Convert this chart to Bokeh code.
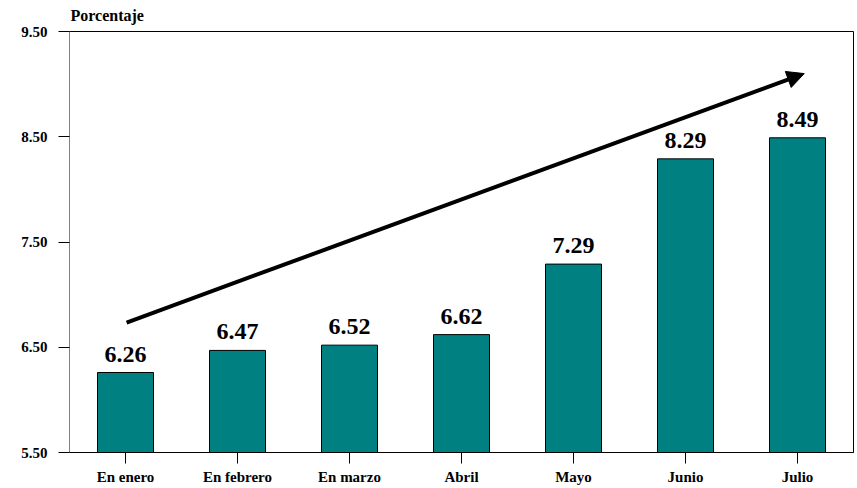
from bokeh.plotting import figure
from bokeh.models import (ColumnDataSource, FixedTicker, Range1d, Arrow, NormalHead,
                          LabelSet, Title)
from bokeh.embed import file_html
from bokeh.resources import INLINE

categories = ["En enero", "En febrero", "En marzo", "Abril", "Mayo", "Junio", "Julio"]
values = [6.26, 6.47, 6.52, 6.62, 7.29, 8.29, 8.49]
value_labels = ["6.26", "6.47", "6.52", "6.62", "7.29", "8.29", "8.49"]
y_ticks = [5.5, 6.5, 7.5, 8.5, 9.5]
y_tick_labels = ["5.50", "6.50", "7.50", "8.50", "9.50"]
arrow_start = [0.51, 6.735]
arrow_end = [6.56, 9.10]
y_title = "Porcentaje"

SERIF = "Liberation Serif"

xs = [i + 0.5 for i in range(len(categories))]
src = ColumnDataSource(dict(x=xs, top=values, label=value_labels))

p = figure(width=854, height=487, output_backend="svg", toolbar_location=None,
           x_range=Range1d(0, len(categories)), y_range=Range1d(y_ticks[0], y_ticks[-1]),
           min_border_left=69, min_border_right=1, min_border_top=31, min_border_bottom=35)

# spacer between the frame and the title
p.add_layout(Title(text=" ", text_font_size="5px", standoff=0), "above")
p.add_layout(Title(text=y_title, align="left", offset=1, standoff=0,
                   text_font=SERIF, text_font_style="bold", text_font_size="16px",
                   text_color="black"), "above")

p.background_fill_color = "white"
p.border_fill_color = "white"
p.outline_line_color = "black"
p.outline_line_width = 1
p.xgrid.visible = False
p.ygrid.visible = False

p.vbar(x="x", top="top", bottom=y_ticks[0], width=0.5, source=src,
       fill_color="#008080", line_color="black", line_width=1)

labels = LabelSet(x="x", y="top", text="label", source=src, text_align="center",
                  text_baseline="alphabetic", y_offset=11,
                  text_font=SERIF, text_font_style="bold", text_font_size="24px",
                  text_color="black")
p.add_layout(labels)

p.add_layout(Arrow(end=NormalHead(size=17, fill_color="black", line_color="black"),
                   x_start=arrow_start[0], y_start=arrow_start[1],
                   x_end=arrow_end[0], y_end=arrow_end[1],
                   line_width=4, line_color="black"))

# y axis
p.yaxis.ticker = FixedTicker(ticks=y_ticks)
p.yaxis.major_label_overrides = {t: l for t, l in zip(y_ticks, y_tick_labels)}
p.yaxis.axis_line_color = "#808080"
p.yaxis.major_tick_line_color = "black"
p.yaxis.major_tick_out = 11
p.yaxis.major_tick_in = 0
p.yaxis.minor_tick_line_color = None
p.yaxis.major_label_standoff = 11
p.yaxis.major_label_text_font = SERIF
p.yaxis.major_label_text_font_style = "bold"
p.yaxis.major_label_text_font_size = "15px"
p.yaxis.major_label_text_color = "black"

# x axis
p.xaxis.ticker = FixedTicker(ticks=xs)
p.xaxis.major_label_overrides = {x: c for x, c in zip(xs, categories)}
p.xaxis.axis_line_color = "black"
p.xaxis.major_tick_line_color = "black"
p.xaxis.major_tick_out = 11
p.xaxis.major_tick_in = 0
p.xaxis.minor_tick_line_color = None
p.xaxis.major_label_standoff = 5
p.xaxis.major_label_text_font = SERIF
p.xaxis.major_label_text_font_style = "bold"
p.xaxis.major_label_text_font_size = "15px"
p.xaxis.major_label_text_color = "black"

open("out.html", "w").write(file_html(p, INLINE))
